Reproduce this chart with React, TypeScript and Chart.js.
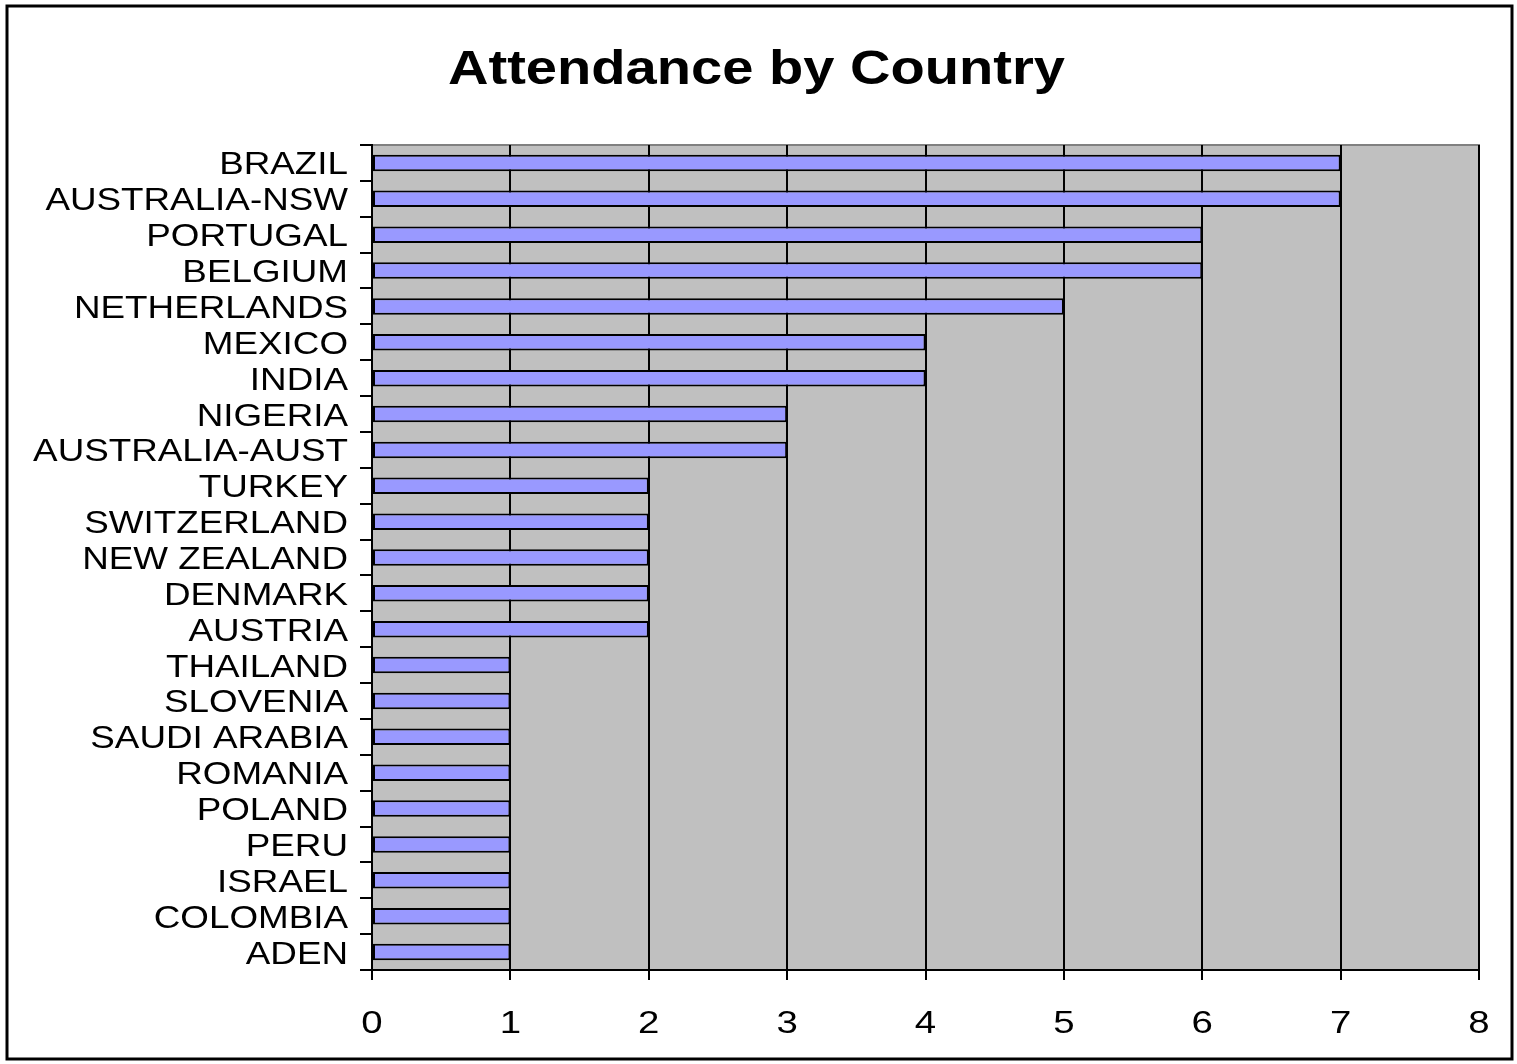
import React, { useEffect, useRef } from "react";
import { Chart, registerables } from "chart.js";

Chart.register(...registerables);

const categories = [
  "BRAZIL", "AUSTRALIA-NSW", "PORTUGAL", "BELGIUM", "NETHERLANDS", "MEXICO", "INDIA",
  "NIGERIA", "AUSTRALIA-AUST", "TURKEY", "SWITZERLAND", "NEW ZEALAND", "DENMARK", "AUSTRIA",
  "THAILAND", "SLOVENIA", "SAUDI ARABIA", "ROMANIA", "POLAND", "PERU", "ISRAEL", "COLOMBIA", "ADEN",
];
const attendance = [7, 7, 6, 6, 5, 4, 4, 3, 3, 2, 2, 2, 2, 2, 1, 1, 1, 1, 1, 1, 1, 1, 1];
const xTickValues = [0, 1, 2, 3, 4, 5, 6, 7, 8];
const titleText = "Attendance by Country";

const W = 1517;
const H = 1064;
const FONT = "'Liberation Sans', Arial, sans-serif";
const STRETCH = 1.15;

function drawStretched(ctx: any, text: string, x: number, y: number, align: "left" | "right" | "center", sx: number) {
  ctx.save();
  ctx.translate(x, y);
  ctx.scale(sx, 1);
  ctx.textAlign = align;
  ctx.fillText(text, 0, 0);
  ctx.restore();
}

const framePlugin = {
  id: "frame",
  beforeDraw(chart: any) {
    const { ctx, chartArea } = chart;
    ctx.save();
    ctx.fillStyle = "#ffffff";
    ctx.fillRect(0, 0, W, H);
    ctx.fillStyle = "#C0C0C0";
    ctx.fillRect(chartArea.left, chartArea.top, chartArea.right - chartArea.left, chartArea.bottom - chartArea.top);
    ctx.strokeStyle = "#808080";
    ctx.lineWidth = 2;
    ctx.beginPath();
    ctx.moveTo(chartArea.left, chartArea.top);
    ctx.lineTo(chartArea.right, chartArea.top);
    ctx.lineTo(chartArea.right, chartArea.bottom);
    ctx.stroke();
    ctx.restore();
  },
  afterDraw(chart: any) {
    const { ctx } = chart;
    const xs = chart.scales.x;
    const ys = chart.scales.y;
    ctx.save();
    ctx.strokeStyle = "#000000";
    ctx.lineWidth = 3;
    ctx.strokeRect(7, 6, W - 12, H - 11);
    ctx.fillStyle = "#000000";

    // title
    ctx.font = "bold 49px " + FONT;
    ctx.textBaseline = "alphabetic";
    const tw = ctx.measureText(titleText).width;
    drawStretched(ctx, titleText, 448, 84, "left", 617 / tw);

    // category labels
    ctx.font = "32px " + FONT;
    ctx.textBaseline = "alphabetic";
    categories.forEach((c, i) => {
      const y = ys.getPixelForTick(i);
      drawStretched(ctx, c, 348, y + 11.5, "right", STRETCH);
    });

    // value labels
    xTickValues.forEach((v) => {
      const x = xs.getPixelForValue(v);
      drawStretched(ctx, String(v), x, 1033, "center", 1.2);
    });
    ctx.restore();
  },
};

export default function App() {
  const ref = useRef<HTMLCanvasElement | null>(null);
  useEffect(() => {
    if (!ref.current) return;
    const chart = new Chart(ref.current, {
      type: "bar",
      data: {
        labels: categories,
        datasets: [
          {
            data: attendance,
            backgroundColor: "#9999FF",
            borderColor: "#000000",
            borderWidth: 2,
            borderSkipped: false,
            categoryPercentage: 1,
            barPercentage: 0.46,
          },
        ],
      },
      options: {
        indexAxis: "y",
        animation: false,
        responsive: false,
        devicePixelRatio: 1,
        layout: { padding: { top: 145, right: 38, left: 0, bottom: 0 } },
        plugins: { legend: { display: false }, title: { display: false }, tooltip: { enabled: false } },
        scales: {
          x: {
            min: xTickValues[0],
            max: xTickValues[xTickValues.length - 1],
            ticks: { stepSize: 1, color: "rgba(0,0,0,0)", padding: 28, font: { family: FONT, size: 32 } },
            grid: { color: "#000", lineWidth: 2, tickLength: 10, drawTicks: true },
            border: { color: "#000", width: 2 },
            afterFit(scale: any) { scale.height = 94; },
          },
          y: {
            ticks: { color: "rgba(0,0,0,0)", padding: 11, autoSkip: false, font: { family: FONT, size: 32 } },
            grid: { offset: true, drawOnChartArea: false, drawTicks: true, tickLength: 12, color: "#000", lineWidth: 2 },
            border: { color: "#000", width: 2 },
            afterFit(scale: any) { scale.width = 372; },
          },
        },
      },
      plugins: [framePlugin],
    } as any);
    return () => chart.destroy();
  }, []);
  return (
    <div style={{ position: "absolute", left: 0, top: 0, width: W, height: H }}>
      <canvas ref={ref} width={W} height={H} style={{ width: W, height: H, display: "block" }} />
    </div>
  );
}
